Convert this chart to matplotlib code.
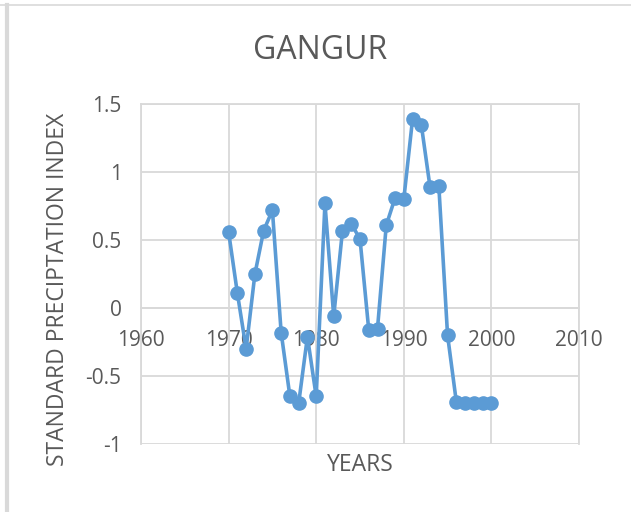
import matplotlib.pyplot as plt
from matplotlib.lines import Line2D

plt.rcParams['font.family'] = ['Open Sans', 'DejaVu Sans']

years = [1970, 1971, 1972, 1973, 1974, 1975, 1976, 1977, 1978, 1979,
         1980, 1981, 1982, 1983, 1984, 1985, 1986, 1987, 1988, 1989,
         1990, 1991, 1992, 1993, 1994, 1995, 1996, 1997, 1998, 1999, 2000]
spi = [0.56, 0.11, -0.30, 0.25, 0.57, 0.72, -0.18, -0.65, -0.70, -0.21,
       -0.65, 0.77, -0.06, 0.57, 0.62, 0.51, -0.16, -0.15, 0.61, 0.81,
       0.80, 1.39, 1.35, 0.89, 0.90, -0.20, -0.69, -0.70, -0.70, -0.70, -0.70]

x_ticks = [1960, 1970, 1980, 1990, 2000, 2010]
y_ticks = [-1, -0.5, 0, 0.5, 1, 1.5]
y_tick_labels = ['-1', '-0.5', '0', '0.5', '1', '1.5']

blue = '#5B9BD5'
grey = '#d9d9d9'
text_col = '#595959'

fig = plt.figure(figsize=(6.31, 5.12), dpi=100)
ax = fig.add_axes([0.2235, 0.1328, 0.694, 0.6635])

ax.plot(years, spi, color=blue, linewidth=2.6, marker='o', markersize=9.5,
        markerfacecolor=blue, markeredgecolor=blue, zorder=3)

ax.set_xlim(1960, 2010)
ax.set_ylim(-1, 1.5)
ax.set_xticks(x_ticks)
ax.set_yticks(y_ticks)
ax.set_yticklabels(y_tick_labels)
ax.grid(True, color=grey, linewidth=1.3)
ax.set_axisbelow(True)

for side in ['left', 'right', 'top']:
    ax.spines[side].set_color(grey)
    ax.spines[side].set_linewidth(1.3)
ax.spines['bottom'].set_position(('data', 0))
ax.spines['bottom'].set_color(grey)
ax.spines['bottom'].set_linewidth(1.3)

ax.tick_params(axis='both', length=0, labelsize=15, labelcolor=text_col)
ax.tick_params(axis='x', pad=15.5)
ax.tick_params(axis='y', pad=14)

fig.text(0.508, 0.902, 'GANGUR', fontsize=23, color=text_col,
         ha='center', va='center')
fig.text(0.5705, 0.0918, 'YEARS', fontsize=16.5, color=text_col,
         ha='center', va='center')
fig.text(0.0919, 0.4355, 'STANDARD PRECIPTATION INDEX', fontsize=16.5,
         color=text_col, rotation=90, ha='center', va='center')

# outer frame of the chart object
fig.add_artist(Line2D([0, 1], [1 - 5 / 512, 1 - 5 / 512], color=grey,
                      linewidth=1.2, transform=fig.transFigure))
fig.add_artist(Line2D([7 / 631, 7 / 631], [0, 1 - 5 / 512], color=grey,
                      linewidth=3, transform=fig.transFigure))

fig.savefig('out.png', dpi=100)
